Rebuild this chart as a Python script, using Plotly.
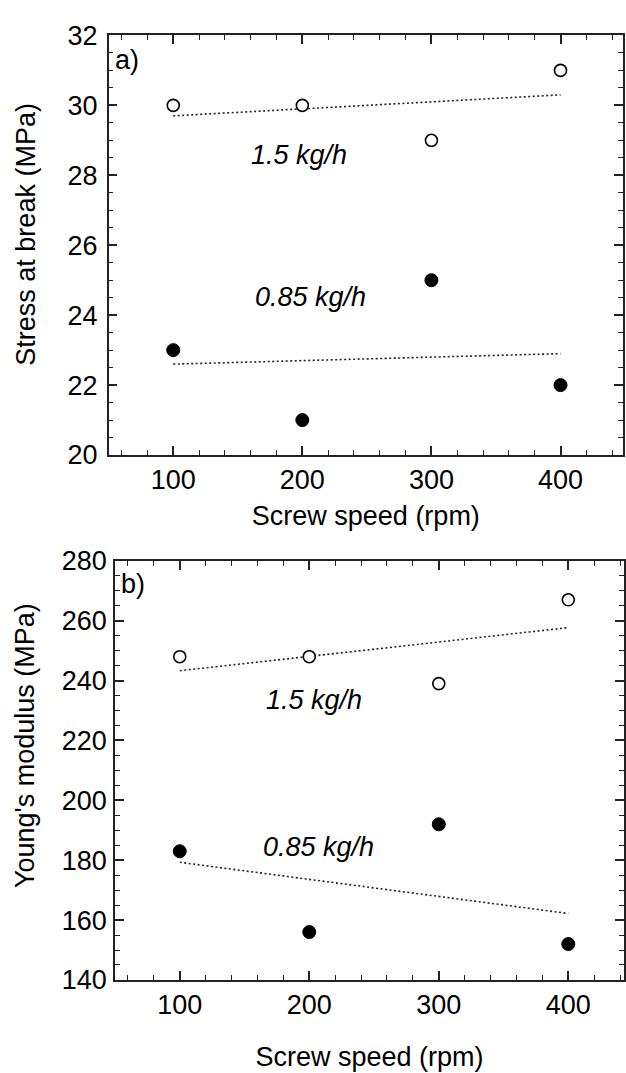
import plotly.graph_objects as go

# ---- data ----
speed = [100, 200, 300, 400]

stress_15 = [30, 30, 29, 31]
stress_085 = [23, 21, 25, 22]
modulus_15 = [248, 248, 239, 267]
modulus_085 = [183, 156, 192, 152]

trend_x = [100, 400]
stress_15_trend = [29.7, 30.3]
stress_085_trend = [22.6, 22.9]
modulus_15_trend = [243.3, 257.7]
modulus_085_trend = [179.3, 162.2]

W, H = 626, 1073
FONT = "Liberation Sans, Arial, Helvetica, sans-serif"
INK = "#222222"
FS = 27

fig = go.Figure()

def add_panel(xa, ya, y15, y085, t15, t085):
    fig.add_trace(go.Scatter(x=trend_x, y=t15, mode="lines", xaxis=xa, yaxis=ya,
                             line=dict(color=INK, width=1.6, dash="2px,2.5px"),
                             showlegend=False, hoverinfo="skip"))
    fig.add_trace(go.Scatter(x=trend_x, y=t085, mode="lines", xaxis=xa, yaxis=ya,
                             line=dict(color=INK, width=1.6, dash="2px,2.5px"),
                             showlegend=False, hoverinfo="skip"))
    fig.add_trace(go.Scatter(x=speed, y=y15, mode="markers", xaxis=xa, yaxis=ya,
                             name="1.5 kg/h",
                             marker=dict(symbol="circle", size=12, color="white",
                                         line=dict(color="black", width=1.6)),
                             showlegend=False))
    fig.add_trace(go.Scatter(x=speed, y=y085, mode="markers", xaxis=xa, yaxis=ya,
                             name="0.85 kg/h",
                             marker=dict(symbol="circle", size=13, color="black",
                                         line=dict(color="black", width=1)),
                             showlegend=False))

add_panel("x", "y", stress_15, stress_085, stress_15_trend, stress_085_trend)
add_panel("x2", "y2", modulus_15, modulus_085, modulus_15_trend, modulus_085_trend)

def xax(domain, rng, anchor, standoff):
    return dict(domain=domain, range=rng, anchor=anchor,
                tickmode="array", tickvals=[100, 200, 300, 400],
                ticks="inside", ticklen=9, tickwidth=1.5, tickcolor=INK,
                minor=dict(dtick=20, tick0=0, ticks="inside", ticklen=5,
                           tickwidth=1.2, tickcolor=INK),
                showline=True, linecolor=INK, linewidth=1.5, mirror="allticks",
                showgrid=False, zeroline=False,
                tickfont=dict(family=FONT, size=FS, color="black"),
                title=dict(text="Screw speed (rpm)", standoff=standoff,
                           font=dict(family=FONT, size=FS, color="black")))

def yax(domain, rng, anchor, dtick, minor, lab_off):
    return dict(domain=domain, range=rng, anchor=anchor, dtick=dtick, tick0=0,
                ticks="inside", ticklen=9, tickwidth=1.5, tickcolor=INK,
                minor=dict(dtick=minor, tick0=0, ticks="inside", ticklen=5,
                           tickwidth=1.2, tickcolor=INK),
                showline=True, linecolor=INK, linewidth=1.5, mirror="allticks",
                showgrid=False, zeroline=False, ticklabelstandoff=lab_off,
                tickfont=dict(family=FONT, size=FS, color="black"))

fig.update_layout(
    width=W, height=H,
    margin=dict(l=0, r=0, t=0, b=0),
    paper_bgcolor="white", plot_bgcolor="white",
    xaxis=xax([108.7 / W, 623 / W], [50, 448.4], "y", 12),
    yaxis=yax([1 - 452.7 / H, 1 - 21 / H], [20, 32], "x", 2, 0.5, 4),
    xaxis2=xax([115 / W, 624 / W], [50, 443.0], "y2", 28),
    yaxis2=yax([1 - 992.7 / H, 1 - 561.6 / H], [140, 280], "x2", 20, 5, 1),
)

title_font = dict(family=FONT, size=FS, color="black")
fig.add_annotation(text="Stress at break (MPa)", xref="paper", yref="paper",
                   x=26 / W, y=1 - 226 / H, textangle=-90,
                   xanchor="center", yanchor="middle", showarrow=False, font=title_font)
fig.add_annotation(text="Young's modulus (MPa)", xref="paper", yref="paper",
                   x=25 / W, y=1 - 752 / H, textangle=-90,
                   xanchor="center", yanchor="middle", showarrow=False, font=title_font)

ann_font = dict(family=FONT, size=FS, color="black")
fig.add_annotation(text="a)", xref="paper", yref="paper", x=113 / W, y=1 - 46 / H,
                   xanchor="left", yanchor="middle", showarrow=False, font=ann_font)
fig.add_annotation(text="b)", xref="paper", yref="paper", x=119 / W, y=1 - 585 / H,
                   xanchor="left", yanchor="middle", showarrow=False, font=ann_font)

it_font = dict(family=FONT, size=FS, color="black", style="italic")
fig.add_annotation(text="1.5 kg/h", xref="x", yref="y", x=159, y=28.58,
                   xanchor="left", yanchor="middle", showarrow=False, font=it_font)
fig.add_annotation(text="0.85 kg/h", xref="x", yref="y", x=162, y=24.52,
                   xanchor="left", yanchor="middle", showarrow=False, font=it_font)
fig.add_annotation(text="1.5 kg/h", xref="x2", yref="y2", x=165, y=233.5,
                   xanchor="left", yanchor="middle", showarrow=False, font=it_font)
fig.add_annotation(text="0.85 kg/h", xref="x2", yref="y2", x=162.5, y=184.5,
                   xanchor="left", yanchor="middle", showarrow=False, font=it_font)

fig.write_html("out.html")
